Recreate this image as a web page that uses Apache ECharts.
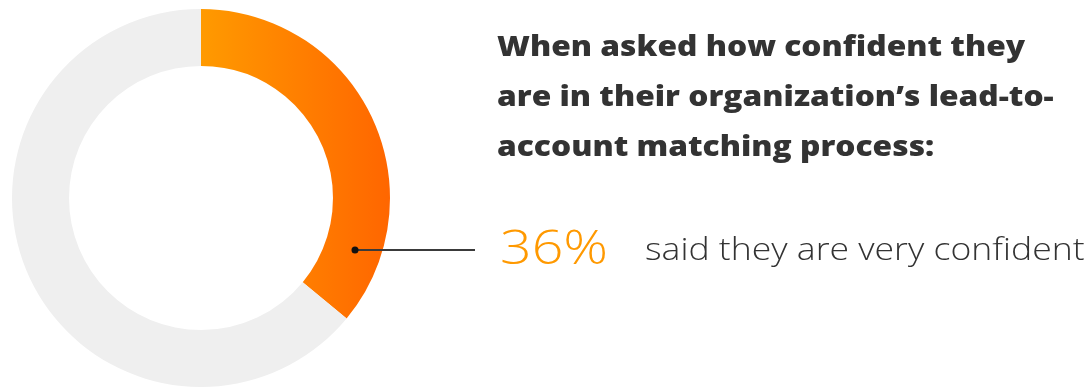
<!DOCTYPE html>
<html>
<head>
<meta charset="utf-8">
<style>
  html, body { margin: 0; padding: 0; background: #ffffff; }
  #chart { width: 1092px; height: 387px; }
</style>
<script src="https://cdn.jsdelivr.net/npm/echarts@6/dist/echarts.min.js"></script>
</head>
<body>
<div id="chart"></div>
<script>
// Survey result: share of respondents very confident in lead-to-account matching
const categories = ['Very confident', 'Other'];
const values = [36, 64];
const headline = [
  'When asked how confident they',
  'are in their organization\u2019s lead-to-',
  'account matching process:'
];
const caption = 'said they are very confident';

const chart = echarts.init(document.getElementById('chart'), null, { renderer: 'canvas' });

const orangeFill = new echarts.graphic.LinearGradient(0, 0, 1, 0, [
  { offset: 0, color: '#FF9A00' },
  { offset: 1, color: '#FF6600' }
]);

// Text drawn on a baseline, widened horizontally to the geometric face width
function label(text, x, baseline, size, weight, color, widen) {
  return {
    type: 'text',
    x: x,
    y: baseline,
    scaleX: widen,
    z: 100,
    style: {
      text: text,
      x: 0,
      y: 0,
      fontFamily: 'Open Sans',
      fontWeight: weight,
      fontSize: size,
      fill: color,
      verticalAlign: 'bottom'
    }
  };
}

const headlineMarks = headline.map((line, i) =>
  label(line, 497, 62 + i * 50, 29, 800, '#333333', 1.094)
);

chart.setOption({
  animation: false,
  series: [{
    type: 'pie',
    center: [201, 198],
    radius: [132, 189],
    startAngle: 90,
    clockwise: true,
    silent: true,
    label: { show: false },
    labelLine: { show: false },
    data: categories.map((name, i) => ({
      name,
      value: values[i],
      itemStyle: { color: i === 0 ? orangeFill : '#EFEFEF' }
    }))
  }],
  graphic: headlineMarks.concat([
    {
      type: 'line',
      z: 100,
      shape: { x1: 354, y1: 250, x2: 475, y2: 250 },
      style: { stroke: '#3a3a3a', lineWidth: 2 }
    },
    {
      type: 'circle',
      z: 101,
      shape: { cx: 355, cy: 250, r: 3.5 },
      style: { fill: '#111111' }
    },
    label(values[0] + '%', 500, 274, 47, 300, '#FF9900', 1.18),
    label(caption, 645, 267, 31, 300, '#333333', 1.147)
  ])
});
</script>
</body>
</html>
